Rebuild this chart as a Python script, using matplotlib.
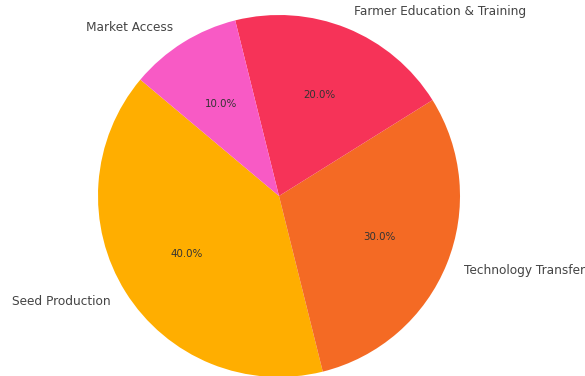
import matplotlib
matplotlib.use('Agg')
import matplotlib.pyplot as plt

# Share of programme budget by activity
labels = ['Seed Production', 'Technology Transfer', 'Farmer Education & Training', 'Market Access']
shares = [40, 30, 20, 10]
colors = ['#FFAE00', '#F46A24', '#F63358', '#F85AC5']

fig = plt.figure(figsize=(5.85, 3.76), dpi=100)
ax = fig.add_axes([0, 0, 1, 1])

wedges, texts, autotexts = ax.pie(shares, labels=labels, colors=colors,
                                  autopct='%1.1f%%', startangle=140,
                                  textprops=dict(color='#444444', fontsize=8.7))
for t in autotexts:
    t.set_fontsize(7.4)
    t.set_color('#333333')

# centre at (279, 196) px, radius ~181 px
ax.set_xlim(-279 / 181, (585 - 279) / 181)
ax.set_ylim((196 - 376) / 181, 196 / 181)
ax.set_aspect('auto')
ax.axis('off')

plt.savefig('out.png', dpi=100)
plt.close()
